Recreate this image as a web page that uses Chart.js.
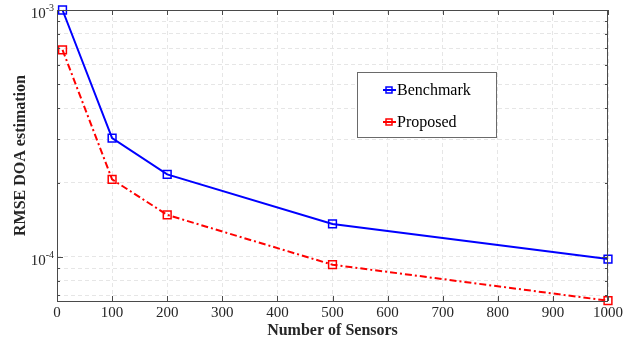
<!DOCTYPE html>
<html><head><meta charset="utf-8">
<script src="https://cdn.jsdelivr.net/npm/chart.js@4/dist/chart.umd.min.js"></script>
<style>html,body{margin:0;padding:0;background:#fff}#wrap{width:644px;height:339px}</style>
</head><body><div id="wrap"><canvas id="c" width="644" height="339"></canvas></div>
<script>
const sensors = [10, 100, 200, 500, 1000];
const benchmark = [1.0e-3, 3.03e-4, 2.16e-4, 1.36e-4, 9.8e-5];
const proposed = [6.9e-4, 2.06e-4, 1.48e-4, 9.3e-5, 6.65e-5];
const seriesNames = ['Benchmark', 'Proposed'];
const xTicks = [0, 100, 200, 300, 400, 500, 600, 700, 800, 900, 1000];
const yTicks = [7e-5, 8e-5, 9e-5, 1e-4, 2e-4, 3e-4, 4e-4, 5e-4, 6e-4, 7e-4, 8e-4, 9e-4, 1e-3];
const yMajor = [1e-4, 1e-3];
const yMajorLabels = [['10', '-4'], ['10', '-3']];

const SERIF = '"Liberation Serif", "Times New Roman", serif';
const AXIS = '#4a4a4a';
const TXT = '#262626';
const BLUE = '#0000ff';
const RED = '#ff0000';
const RED_DASH = [7, 3, 2, 3];

const frame = {
  id: 'frame',
  afterDatasetsDraw(chart) {
    const ctx = chart.ctx, a = chart.chartArea;
    const xs = chart.scales.x, ys = chart.scales.y;
    ctx.save();
    ctx.strokeStyle = AXIS; ctx.lineWidth = 1; ctx.setLineDash([]);
    ctx.strokeRect(Math.round(a.left) + 0.5, Math.round(a.top) + 0.5, Math.round(a.right - a.left) - 1, Math.round(a.bottom - a.top));
    ctx.beginPath();
    xTicks.forEach(v => {
      const px = Math.round(xs.getPixelForValue(v)) + 0.5;
      ctx.moveTo(px, a.bottom); ctx.lineTo(px, a.bottom - 5);
      ctx.moveTo(px, a.top); ctx.lineTo(px, a.top + 5);
    });
    yTicks.forEach(v => {
      const py = Math.round(ys.getPixelForValue(v)) + 0.5;
      const len = yMajor.includes(v) ? 6 : 3;
      ctx.moveTo(a.left, py); ctx.lineTo(a.left + len, py);
      ctx.moveTo(a.right, py); ctx.lineTo(a.right - len, py);
    });
    ctx.stroke();
    ctx.fillStyle = TXT; ctx.textBaseline = 'middle';
    yMajor.forEach((v, i) => {
      const py = ys.getPixelForValue(v);
      const [b, e] = yMajorLabels[i];
      ctx.font = '10px ' + SERIF;
      const ew = ctx.measureText(e).width;
      ctx.textAlign = 'right';
      ctx.fillText(e, a.left - 3, py - 2);
      ctx.font = '15px ' + SERIF;
      ctx.fillText(b, a.left - 3 - ew, py + 4);
    });
    const bx = 357, by = 72, bw = 139, bh = 65;
    ctx.fillStyle = '#fff'; ctx.fillRect(bx, by, bw, bh);
    ctx.strokeStyle = '#6a6a6a'; ctx.lineWidth = 1;
    ctx.strokeRect(bx + 0.5, by + 0.5, bw, bh);
    const items = [[seriesNames[0], BLUE, 90], [seriesNames[1], RED, 122]];
    items.forEach(([name, col, y]) => {
      ctx.strokeStyle = col; ctx.lineWidth = 2; ctx.setLineDash([]);
      ctx.beginPath(); ctx.moveTo(383, y); ctx.lineTo(396, y); ctx.stroke();
      ctx.lineWidth = 1.5;
      ctx.strokeRect(386, y - 3, 6, 6);
      ctx.fillStyle = '#000'; ctx.font = '16px ' + SERIF;
      ctx.textAlign = 'left'; ctx.textBaseline = 'middle';
      ctx.fillText(name, 397, y + 1);
    });
    ctx.restore();
  }
};

new Chart(document.getElementById('c'), {
  type: 'line',
  data: {
    datasets: [
      {
        label: seriesNames[0],
        data: sensors.map((s, i) => ({ x: s, y: benchmark[i] })),
        borderColor: BLUE, borderWidth: 2,
        pointStyle: 'rect', pointRadius: 5.5, pointBorderWidth: 1.5,
        pointBorderColor: BLUE, pointBackgroundColor: 'rgba(255,255,255,0)',
        tension: 0, clip: false
      },
      {
        label: seriesNames[1],
        data: sensors.map((s, i) => ({ x: s, y: proposed[i] })),
        borderColor: RED, borderWidth: 2, borderDash: RED_DASH,
        pointStyle: 'rect', pointRadius: 5.5, pointBorderWidth: 1.5,
        pointBorderColor: RED, pointBackgroundColor: 'rgba(255,255,255,0)',
        tension: 0, clip: false
      }
    ]
  },
  options: {
    responsive: false, animation: false,
    layout: { padding: { left: 0, right: 36, top: 10, bottom: 0 } },
    plugins: { legend: { display: false }, tooltip: { enabled: false } },
    scales: {
      x: {
        type: 'linear', min: 0, max: 1000,
        afterBuildTicks: s => { s.ticks = xTicks.map(v => ({ value: v })); },
        afterFit: s => { s.height = 38; },
        grid: { color: '#e6e6e6', drawTicks: false },
        border: { display: false, dash: [4, 3] },
        ticks: { color: TXT, font: { family: SERIF, size: 15 }, padding: 3, maxRotation: 0,
          callback: v => String(v) },
        title: { display: true, text: 'Number of Sensors', color: TXT,
          font: { family: SERIF, size: 16, weight: 'bold' }, padding: { top: 0, bottom: -1 } }
      },
      y: {
        type: 'logarithmic', min: 6.63e-5, max: 1e-3,
        afterBuildTicks: s => { s.ticks = yTicks.map(v => ({ value: v })); },
        afterFit: s => { s.width = 57; },
        grid: { color: '#e6e6e6', drawTicks: false },
        border: { display: false, dash: [4, 3] },
        ticks: { display: false },
        title: { display: true, text: 'RMSE DOA estimation', color: TXT,
          font: { family: SERIF, size: 16, weight: 'bold' }, padding: { top: 11, bottom: 0 } }
      }
    }
  },
  plugins: [frame]
});
</script>
</body></html>
